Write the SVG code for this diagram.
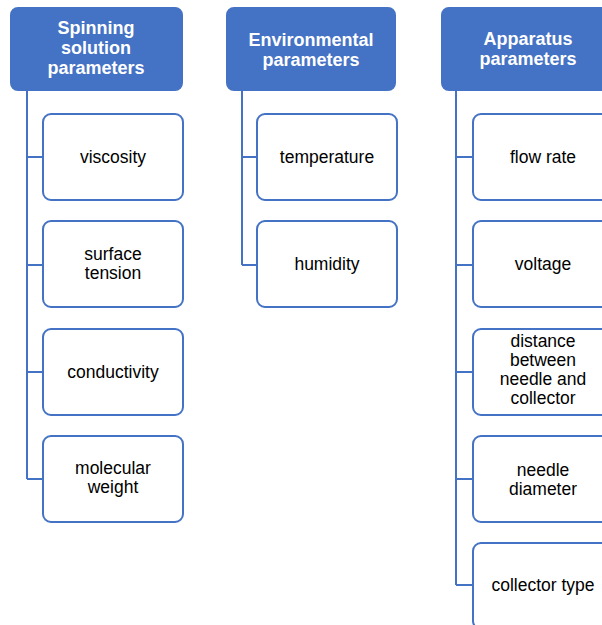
<svg xmlns="http://www.w3.org/2000/svg" width="602" height="625" viewBox="0 0 602 625">
<style>
.hdr{fill:#4472C4;stroke:#4472C4;stroke-width:2}
.box{fill:#fff;stroke:#4472C4;stroke-width:2}
.ht{font-family:"Liberation Sans",Arial,sans-serif;font-size:18px;font-weight:bold;fill:#fff;text-anchor:middle}
.ct{font-family:"Liberation Sans",Arial,sans-serif;font-size:17.5px;fill:#000;text-anchor:middle}
.ln{fill:none;stroke:#4472C4;stroke-width:2}
</style>
<rect width="602" height="625" fill="#fff"/>
<g id="connectors">
<path class="ln" d="M27 90V479M27 157H43M27 265H43M27 372H43M27 479H43"/>
<path class="ln" d="M242 90V265M242 157H257M242 265H257"/>
<path class="ln" d="M456 90V585M456 157H473M456 265H473M456 372H473M456 479H473M456 585H473"/>
</g>
<g id="spinning"><rect class="hdr" x="11" y="8" width="171" height="82" rx="7"/>
<text class="ht" x="96" y="34">Spinning</text><text class="ht" x="96" y="54">solution</text><text class="ht" x="96" y="74">parameters</text></g>
<g id="environmental"><rect class="hdr" x="227" y="8" width="168" height="82" rx="7"/>
<text class="ht" x="311" y="46">Environmental</text><text class="ht" x="311" y="66">parameters</text></g>
<g id="apparatus"><rect class="hdr" x="442" y="8" width="172" height="82" rx="7"/>
<text class="ht" x="528" y="45">Apparatus</text><text class="ht" x="528" y="65">parameters</text></g>
<g id="viscosity"><rect class="box" x="43" y="114" width="140" height="86" rx="8"/><text class="ct" x="113" y="163">viscosity</text></g>
<g id="surface-tension"><rect class="box" x="43" y="221" width="140" height="86" rx="8"/><text class="ct" x="113" y="260">surface</text><text class="ct" x="113" y="279">tension</text></g>
<g id="conductivity"><rect class="box" x="43" y="329" width="140" height="86" rx="8"/><text class="ct" x="113" y="378">conductivity</text></g>
<g id="molecular-weight"><rect class="box" x="43" y="436" width="140" height="86" rx="8"/><text class="ct" x="113" y="474">molecular</text><text class="ct" x="113" y="493">weight</text></g>
<g id="temperature"><rect class="box" x="257" y="114" width="140" height="86" rx="8"/><text class="ct" x="327" y="163">temperature</text></g>
<g id="humidity"><rect class="box" x="257" y="221" width="140" height="86" rx="8"/><text class="ct" x="327" y="270">humidity</text></g>
<g id="flow-rate"><rect class="box" x="473" y="114" width="140" height="86" rx="8"/><text class="ct" x="543" y="163">flow rate</text></g>
<g id="voltage"><rect class="box" x="473" y="221" width="140" height="86" rx="8"/><text class="ct" x="543" y="270">voltage</text></g>
<g id="distance"><rect class="box" x="473" y="329" width="140" height="86" rx="8"/><text class="ct" x="543" y="347">distance</text><text class="ct" x="543" y="366">between</text><text class="ct" x="543" y="385">needle and</text><text class="ct" x="543" y="404">collector</text></g>
<g id="needle-diameter"><rect class="box" x="473" y="436" width="140" height="86" rx="8"/><text class="ct" x="543" y="476">needle</text><text class="ct" x="543" y="495">diameter</text></g>
<g id="collector-type"><rect class="box" x="473" y="543" width="140" height="86" rx="8"/><text class="ct" x="543" y="591">collector type</text></g>
</svg>
